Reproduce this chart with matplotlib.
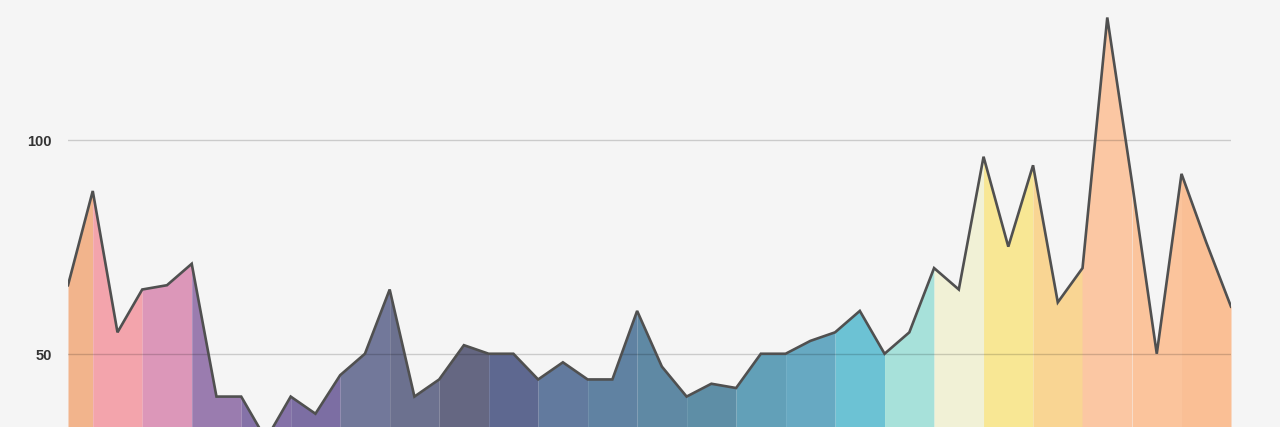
import matplotlib
matplotlib.use("Agg")
from matplotlib import pyplot as plt

# valores de la serie (48 puntos)
valores = [66, 88, 55, 65, 66, 71, 40, 40, 30, 40, 36, 45, 50, 65, 40, 44,
           52, 50, 50, 44, 48, 44, 44, 60, 47, 40, 43, 42, 50, 50, 53, 55,
           60, 50, 55, 70, 65, 96, 75, 94, 62, 70, 128.5, 90, 50, 92, 76, 61]

# colores de cada franja vertical
colores = ['#F2B48C', '#F3A4AC', '#DC97B9', '#9A7CAF', '#8572A8', '#7C6EA3',
           '#72789A', '#6C718F', '#656782', '#5E6890', '#627A9E', '#6082A2',
           '#5F89A4', '#5E8EA6', '#62A0B8', '#67A9C2', '#6CC2D4', '#A7E1DA',
           '#F1F1D6', '#F8E794', '#F9D593', '#FBC7A3', '#FBC49C', '#FABF95']

marcas_y = [50, 100]

x = list(range(len(valores)))
cortes = [0] + list(range(1, len(valores), 2))

fig = plt.figure(figsize=(12.8, 4.275), dpi=100)
fig.patch.set_facecolor('#F5F5F5')
ax = fig.add_axes([68 / 1280, 0, (1231 - 68) / 1280, 1])
ax.set_facecolor('#F5F5F5')

for k in range(len(cortes) - 1):
    a, b = cortes[k], cortes[k + 1]
    ax.fill_between(x[a:b + 1], valores[a:b + 1], 0, color=colores[k],
                    linewidth=0, zorder=2)

for v in marcas_y:
    ax.axhline(v, color='black', alpha=0.17, linewidth=1, zorder=3)

ax.plot(x, valores, color='#505050', linewidth=1.9, zorder=4,
        solid_joinstyle='miter')

ax.set_xlim(0, len(valores) - 1)
ax.set_ylim(32.9, 132.7)
ax.set_yticks(marcas_y)
ax.set_yticklabels([str(v) for v in marcas_y], fontfamily='Liberation Sans',
                   fontweight='bold', fontsize=10.5, color='#333333')
ax.set_xticks([])
ax.tick_params(axis='y', length=0, pad=11.5)
for s in ax.spines.values():
    s.set_visible(False)

fig.savefig('out.png', dpi=100, facecolor=fig.get_facecolor())
